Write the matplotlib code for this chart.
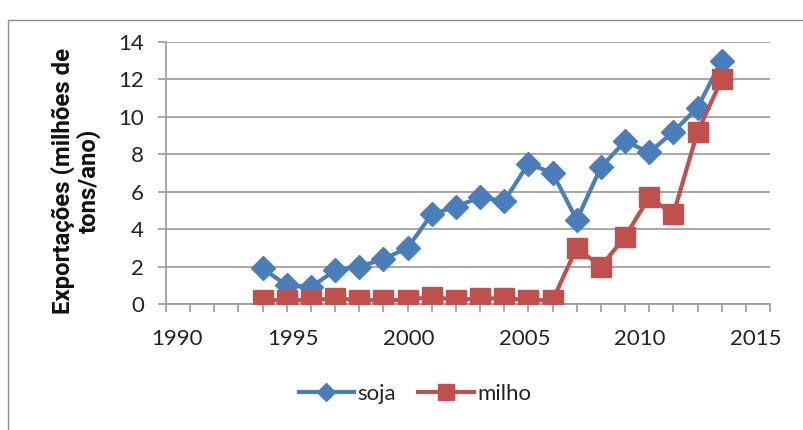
import matplotlib
matplotlib.use("Agg")
import matplotlib.pyplot as plt
import matplotlib.transforms as mtransforms
from matplotlib.patches import Rectangle
from matplotlib.ticker import MultipleLocator

years = list(range(1994, 2014))
soja = [1.9, 1.0, 0.9, 1.8, 2.0, 2.4, 3.0, 4.8, 5.2, 5.7, 5.5, 7.5, 7.0, 4.5,
        7.3, 8.7, 8.1, 9.2, 10.5, 13.0]
milho = [0.2, 0.2, 0.2, 0.3, 0.2, 0.2, 0.2, 0.4, 0.2, 0.3, 0.3, 0.2, 0.2, 3.0,
         2.0, 3.6, 5.7, 4.8, 9.2, 12.0]
x_ticks = [1990, 1995, 2000, 2005, 2010, 2015]
y_ticks = [0, 2, 4, 6, 8, 10, 12, 14]

plt.rcParams['font.family'] = ['Lato', 'DejaVu Sans']

fig = plt.figure(figsize=(8.04, 4.30), dpi=100)
fig.patches.append(Rectangle((8 / 804, -0.05), 1.0, 1 - 20 / 430 + 0.05,
                             transform=fig.transFigure, fill=False,
                             edgecolor='#8c8c8c', linewidth=1.0))

ax = fig.add_axes([166 / 804, 1 - 304 / 430, (770 - 166) / 804, (304 - 42) / 430])

blue = '#4a7ebb'
red = '#c0504d'
ax.plot(years, soja, color=blue, linewidth=3.0, marker='D', markersize=12,
        label='soja', zorder=3)
ax.plot(years, milho, color=red, linewidth=3.0, marker='s', markersize=14.5,
        label='milho', zorder=3)

ax.set_xlim(1990, 2015)
ax.set_ylim(0, 14)
ax.set_xticks(x_ticks)
ax.set_yticks(y_ticks)
ax.xaxis.set_minor_locator(MultipleLocator(1))
ax.grid(axis='y', color='#a0a0a0', linewidth=1.3)
ax.set_axisbelow(True)
for s in ['top', 'right']:
    ax.spines[s].set_visible(False)
for s in ['left', 'bottom']:
    ax.spines[s].set_color('#a0a0a0')
    ax.spines[s].set_linewidth(1.3)
ax.tick_params(axis='x', which='both', direction='out', length=6, color='#a0a0a0',
               width=1.3, labelsize=16, pad=12, labelcolor='#222222')
ax.tick_params(axis='y', direction='out', length=6, color='#a0a0a0', width=1.3,
               labelsize=16, pad=10, labelcolor='#222222')

# year labels sit slightly closer together than their ticks
n = len(x_ticks)
for i, lbl in enumerate(ax.get_xticklabels()):
    shift = (11 - 5 * i) / 100.0
    lbl.set_transform(lbl.get_transform() +
                      mtransforms.ScaledTranslation(shift, 0, fig.dpi_scale_trans))

fig.text(76 / 804, 1 - 181 / 430, 'Exportações (milhões de\ntons/ano)',
         rotation=90, ha='center', va='center', fontsize=17.3,
         family=['Roboto', 'DejaVu Sans'], fontweight='bold',
         linespacing=1.1, color='#111111', multialignment='center')

ax.legend(loc='center', bbox_to_anchor=(415 / 804, 1 - 394 / 430),
          bbox_transform=fig.transFigure, ncol=2, frameon=False, fontsize=16,
          handlelength=2.5, handletextpad=0.15, columnspacing=1.0,
          markerscale=0.8, labelcolor='#222222')

fig.savefig('out.png', dpi=100)
